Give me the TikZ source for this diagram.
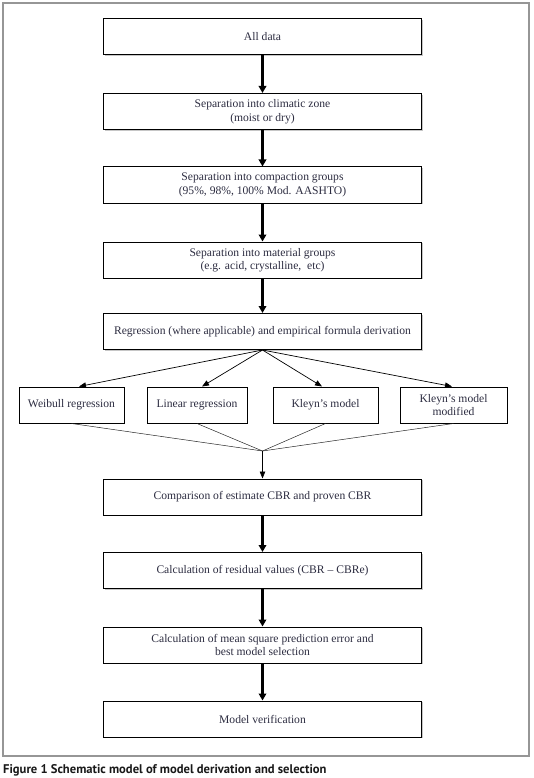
\documentclass[tikz,border=0pt]{standalone}
\usepackage{fontspec}
\setmainfont{Liberation Serif}
\newfontfamily\capfont{PT Sans}
\usetikzlibrary{arrows.meta,shadows}
\definecolor{txt}{RGB}{45,45,65}
\definecolor{frame}{RGB}{150,150,150}
\begin{document}
\begin{tikzpicture}[x=1pt,y=-1pt,
  mainbox/.style={draw=black, line width=1pt, fill=white, minimum width=318pt, minimum height=36pt,
    align=center, font=\fontsize{11.6}{13.5}\selectfont, text=txt, inner sep=2pt,
    drop shadow={shadow xshift=1.3pt, shadow yshift=-1.3pt, opacity=0.45, fill=gray}},
  smallbox/.style={mainbox, minimum width=0pt},
  thickarrow/.style={line width=2.2pt, -{Triangle[length=7pt,width=7.5pt]}},
  thinarrow/.style={line width=0.7pt, -{Triangle[length=7pt,width=5.5pt]}},
  mergeline/.style={line width=0.5pt, draw=black!85}
]
\useasboundingbox (0,0) rectangle (533,778);
\draw[frame, line width=1.2pt] (3,3) rectangle (529,756);

\node[mainbox] (b1) at (262.5,37) {All data};
\node[mainbox] (b2) at (262.5,111.5) {Separation into climatic zone\\(moist or dry)};
\node[mainbox] (b3) at (262.5,185) {Separation into compaction groups\\(95\%, 98\%, 100\% Mod. AASHTO)};
\node[mainbox] (b4) at (262.5,260) {Separation into material groups\\(e.g. acid, crystalline,\ \ etc)};
\node[mainbox] (b5) at (262.5,331.5) {Regression (where applicable) and empirical formula derivation};

\node[smallbox, minimum width=105pt] (w) at (71.5,405) {Weibull regression};
\node[smallbox, minimum width=100pt] (l) at (197,405) {Linear regression};
\node[smallbox, minimum width=105pt] (k) at (325.5,405) {Kleyn's model};
\node[smallbox, minimum width=107pt] (km) at (453.5,405) {Kleyn's model\\modified};

\coordinate (m) at (262.5,451);

\node[mainbox] (b6) at (262.5,497) {Comparison of estimate CBR and proven CBR};
\node[mainbox] (b7) at (262.5,570.5) {Calculation of residual values (CBR -- CBRe)};
\node[mainbox] (b8) at (262.5,645) {Calculation of mean square prediction error and\\best model selection};
\node[mainbox] (b9) at (262.5,719) {Model verification};

\draw[thickarrow] (b1) -- (b2);
\draw[thickarrow] (b2) -- (b3);
\draw[thickarrow] (b3) -- (b4);
\draw[thickarrow] (b4) -- (b5);
\draw[thickarrow] (b6) -- (b7);
\draw[thickarrow] (b7) -- (b8);
\draw[thickarrow] (b8) -- (b9);

\draw[thinarrow] (b5.south) -- ([xshift=7.5pt]w.north);
\draw[thinarrow] (b5.south) -- ([xshift=5pt]l.north);
\draw[thinarrow] (b5.south) -- ([xshift=-3.5pt]k.north);
\draw[thinarrow] (b5.south) -- ([xshift=-1.5pt]km.north);

\draw[mergeline] (w.south) -- (m);
\draw[mergeline] (l.south) -- (m);
\draw[mergeline] (k.south) -- (m);
\draw[mergeline] (km.south) -- (m);
\draw[thinarrow] (m) -- (b6.north);

\node[anchor=base west, inner sep=0pt, font=\capfont\fontsize{12.6}{14}\selectfont\bfseries, text=black!90] (cap) at (3,773)
  {Figure 1 Schematic model of model derivation and selection};
\end{tikzpicture}
\end{document}
